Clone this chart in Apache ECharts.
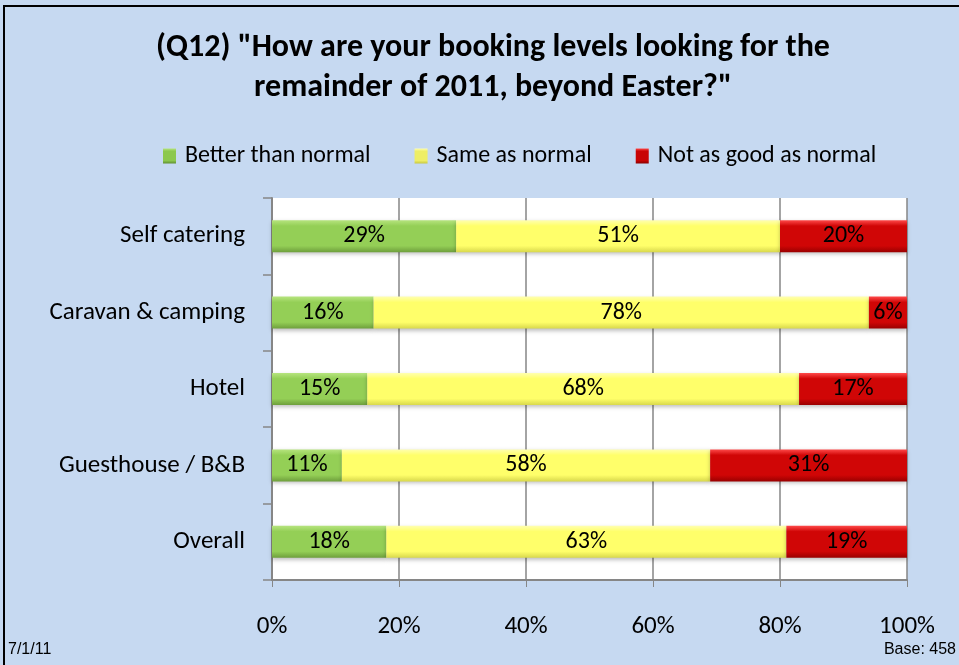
<!DOCTYPE html>
<html>
<head>
<meta charset="utf-8">
<script src="https://cdn.jsdelivr.net/npm/echarts@6/dist/echarts.min.js"></script>
<style>
html,body{margin:0;padding:0;background:#c6d9f1;}
#c{width:959px;height:665px;}
</style>
</head>
<body>
<div id="c"></div>
<script>
var categories = ['Self catering', 'Caravan & camping', 'Hotel', 'Guesthouse / B&B', 'Overall'];
var better = [29, 16, 15, 11, 18];
var same = [51, 78, 68, 58, 63];
var notGood = [20, 6, 17, 31, 19];
var seriesNames = ['Better than normal', 'Same as normal', 'Not as good as normal'];
var xTicks = [0, 20, 40, 60, 80, 100];

var FONT = 'Carlito, Lato, "Open Sans", sans-serif';

function grad(light, main, dark) {
  return new echarts.graphic.LinearGradient(0, 0, 0, 1, [
    {offset: 0, color: light},
    {offset: 0.18, color: main},
    {offset: 0.8, color: main},
    {offset: 1, color: dark}
  ]);
}

var colors = [
  grad('#b6e47e', '#94cf56', '#6e9f3c'),
  grad('#ffffb0', '#ffff6a', '#d8d84c'),
  grad('#ff4a4a', '#d00606', '#9a0000')
];
var legendColors = [
  grad('#b6e47e', '#8cc84e', '#5f9030'),
  grad('#ffffb0', '#eeee66', '#c8c840'),
  grad('#ff4a4a', '#c80404', '#8a0000')
];

function mk(name, data, idx) {
  return {
    name: name,
    type: 'bar',
    stack: 'total',
    barWidth: 32,
    data: data,
    itemStyle: {
      color: colors[idx],
      shadowColor: 'rgba(0,0,0,0.25)',
      shadowBlur: 4,
      shadowOffsetY: 2
    },
    label: {
      show: true,
      position: 'inside',
      formatter: '{c}%',
      color: '#000',
      fontFamily: FONT,
      fontSize: 24
    }
  };
}

var chart = echarts.init(document.getElementById('c'));
var series = [mk(seriesNames[0], better, 0), mk(seriesNames[1], same, 1), mk(seriesNames[2], notGood, 2)];
chart.setOption({
  backgroundColor: '#c6d9f1',
  animation: false,
  title: {
    text: '(Q12) "How are your booking levels looking for the\nremainder of 2011, beyond Easter?"',
    left: 488,
    textAlign: 'center',
    top: 23,
    textStyle: {fontFamily: FONT, fontSize: 32, fontWeight: 'bold', color: '#000', lineHeight: 40}
  },
  legend: {
    top: 139,
    left: 158,
    itemWidth: 13,
    itemHeight: 15,
    itemGap: 44,
    icon: 'rect',
    textStyle: {fontFamily: FONT, fontSize: 24, color: '#000', padding: [0, 0, 0, 4]},
    data: seriesNames.map(function (n, i) { return {name: n, itemStyle: {color: legendColors[i]}}; })
  },
  grid: {left: 272, right: 52, top: 198, bottom: 85, backgroundColor: '#fff', show: true, borderWidth: 0},
  xAxis: {
    type: 'value',
    min: 0, max: 100, interval: 20,
    axisLabel: {formatter: '{value}%', fontFamily: FONT, fontSize: 25, color: '#000', margin: 34},
    axisLine: {show: true, lineStyle: {color: '#868686', width: 2}},
    axisTick: {show: true, length: 7, lineStyle: {color: '#868686', width: 1}},
    splitLine: {show: true, lineStyle: {color: '#868686', width: 1.5}}
  },
  yAxis: {
    type: 'category',
    inverse: true,
    data: categories,
    axisLabel: {fontFamily: FONT, fontSize: 25, color: '#000', margin: 27},
    axisLine: {show: true, lineStyle: {color: '#868686', width: 2}},
    axisTick: {show: true, length: 9, lineStyle: {color: '#868686', width: 1.5}}
  },
  graphic: [
    {type: 'rect', shape: {x: 4, y: 6, width: 1000, height: 1000}, style: {fill: 'none', stroke: '#000', lineWidth: 2}, z: 100},
    {type: 'text', left: 8, top: 642, style: {text: '7/1/11', font: '16px "Liberation Sans Narrow", Arial, sans-serif', fill: '#000'}},
    {type: 'text', right: 3, top: 642, style: {text: 'Base: 458', font: '16px "Liberation Sans Narrow", Arial, sans-serif', fill: '#000'}}
  ],
  series: series
});
</script>
</body>
</html>
